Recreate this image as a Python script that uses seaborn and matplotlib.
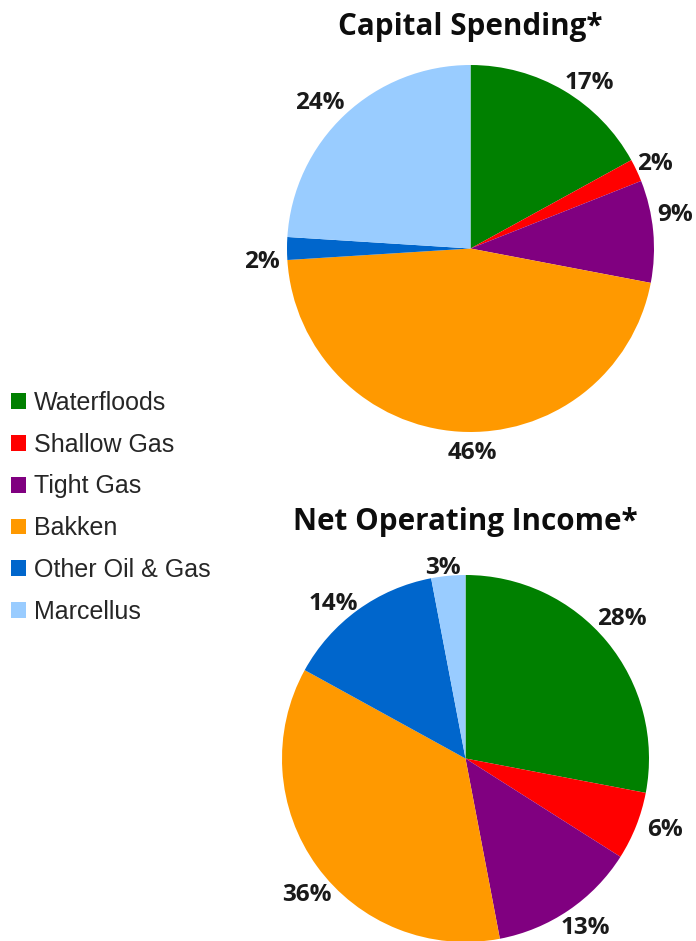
import matplotlib
matplotlib.use("Agg")
import matplotlib.pyplot as plt
import matplotlib.transforms as mtransforms
import seaborn as sns
import numpy as np

# Segment names, colours and the two shares (percent)
segments = ["Waterfloods", "Shallow Gas", "Tight Gas", "Bakken",
            "Other Oil & Gas", "Marcellus"]
segment_colors = ["#008000", "#FF0000", "#800080", "#FF9900", "#0066CC", "#99CCFF"]
capital_spending = [17, 2, 9, 46, 2, 24]
net_operating_income = [28, 6, 13, 36, 14, 3]

# Label placement per wedge: (radial distance, angular nudge in degrees)
capital_label_layout = [(1.12, -4.7), (1.11, 0.0), (1.13, 4.6),
                        (1.10, 4.2), (1.14, 2.9), (1.15, 2.2)]
income_label_layout = [(1.15, 2.7), (1.15, 2.6), (1.12, 1.5),
                       (1.13, 4.3), (1.12, 4.2), (1.06, 1.3)]

sns.set_theme(style="white")
plt.rcParams["font.family"] = ["Liberation Sans", "DejaVu Sans"]

W, H = 696, 941
fig = plt.figure(figsize=(W / 100, H / 100), dpi=100)
BOLD_FAMILY = ["Open Sans", "DejaVu Sans"]


def pie_axes(cx, cy, r):
    """Axes whose unit circle sits at pixel centre (cx, cy) with radius r."""
    return fig.add_axes([(cx - r) / W, 1 - (cy + r) / H, 2 * r / W, 2 * r / H])


def draw_pie(ax, values, title, title_y, layout):
    wedges, texts = ax.pie(values, colors=segment_colors, startangle=90,
                           counterclock=False, radius=1.0,
                           labels=[f"{v}%" for v in values],
                           labeldistance=1.0,
                           wedgeprops=dict(linewidth=0))
    ax.set_xlim(-1, 1)
    ax.set_ylim(-1, 1)
    ax.set_aspect("equal")
    ax.axis("off")
    shifted = mtransforms.offset_copy(ax.transData, fig=fig, x=0, y=-2.5,
                                      units="dots")
    for w, t, (d, nudge) in zip(wedges, texts, layout):
        theta = np.deg2rad((w.theta1 + w.theta2) / 2 + nudge)
        t.set_transform(shifted)
        t.set_position((d * np.cos(theta), d * np.sin(theta)))
        t.set_ha("center")
        t.set_va("center")
        t.set_fontfamily(BOLD_FAMILY)
        t.set_fontweight("bold")
        t.set_fontsize(17.5)
        t.set_color("#1a1a1a")
        t.set_clip_on(False)
    for w in wedges:
        w.set_clip_on(False)
    fig.text(ax.get_position().x0 + ax.get_position().width / 2, title_y, title,
             ha="center", va="center", fontsize=21.3, fontweight="bold",
             family=BOLD_FAMILY, color="#0d0d0d")
    return wedges


ax1 = pie_axes(470.5, 248.5, 183.5)
wedges = draw_pie(ax1, capital_spending, "Capital Spending*", 1 - 27 / H,
                  capital_label_layout)

ax2 = pie_axes(465.5, 758.5, 183.5)
draw_pie(ax2, net_operating_income, "Net Operating Income*", 1 - 522 / H,
         income_label_layout)

fig.legend(wedges, segments, loc="upper left",
           bbox_to_anchor=(11 / W, 1 - 391 / H), frameon=False,
           fontsize=18, handlelength=0.6, handleheight=0.6,
           handletextpad=0.3, labelspacing=0.71, borderpad=0,
           borderaxespad=0)

fig.savefig("out.png", dpi=100, facecolor="white")
